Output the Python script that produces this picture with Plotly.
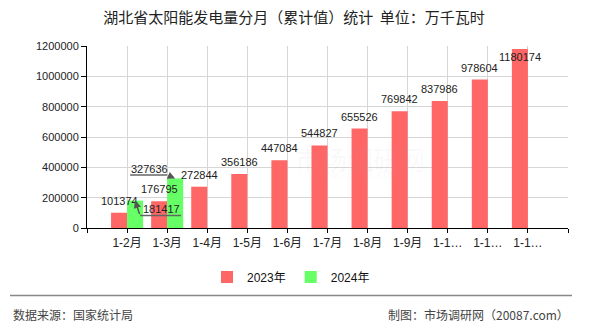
import plotly.graph_objects as go

# Monthly cumulative solar generation, Hubei (10,000 kWh)
months = ["1-2月", "1-3月", "1-4月", "1-5月", "1-6月", "1-7月",
          "1-8月", "1-9月", "1-10月", "1-11月", "1-12月"]
v2023 = [101374, 176795, 272844, 356186, 447084, 544827,
         655526, 769842, 837986, 978604, 1180174]
v2024 = [181417, 327636]
series_names = ["2023年", "2024年"]
y_ticks = [0, 200000, 400000, 600000, 800000, 1000000, 1200000]

RED = "#ff6666"
GREEN = "#66ff66"
W, H = 590, 330
ML, MR, MT, MB = 87, 22, 46, 100
PW, PH = W - ML - MR, H - MT - MB
FONT = "Liberation Sans, Noto Sans CJK SC, sans-serif"
CJK = "Noto Sans CJK SC, sans-serif"


def px_x(px):
    return (px - ML) / PW


def px_y(py):
    return (H - MB - py) / PH


# long category names get cut short on the axis
tick_text = [m if len(m) <= 4 else m[:3] + "…" for m in months]
xs = list(range(len(months)))

fig = go.Figure()
fig.add_trace(go.Bar(x=xs, y=v2023, name=series_names[0], marker_color=RED,
                     marker_line_width=0))
fig.add_trace(go.Bar(x=xs[:len(v2024)], y=v2024, name=series_names[1],
                     marker_color=GREEN, marker_line_width=0))

annotations = []
shapes = []

# 2023 value labels above the bars (the tallest one sits just inside)
for i, v in enumerate(v2023):
    shift = -8 if i == len(v2023) - 1 else 12
    annotations.append(dict(x=i, y=v, xref="x", yref="y", text=str(v),
                            showarrow=False, xshift=-8, yshift=shift,
                            font=dict(size=11, color="#222", family=FONT)))

# 2024 labels are pulled aside with leader lines
# offsets in pixels from the bar top, y positive = up
leaders = [
    dict(label=(26, -8), elbow=(5, -15), under=(5, 46)),
    dict(label=(-26, 9), elbow=(-8, 3.5), under=(-45, -8)),
]
for i, v in enumerate(v2024):
    ld = leaders[i]
    annotations.append(dict(x=i, y=v, xref="x", yref="y", text=str(v),
                            showarrow=False, xshift=8 + ld["label"][0],
                            yshift=ld["label"][1],
                            font=dict(size=11, color="#222", family=FONT)))
    annotations.append(dict(x=i, y=v, xref="x", yref="y", text="",
                            showarrow=True, xshift=8,
                            ax=ld["elbow"][0], ay=-ld["elbow"][1],
                            arrowhead=2, arrowsize=1, arrowwidth=1.5,
                            arrowcolor="#555", standoff=0))
    shapes.append(dict(type="line", xref="x", yref="y",
                       xsizemode="pixel", ysizemode="pixel",
                       xanchor=i, yanchor=v,
                       x0=8 + ld["under"][0], x1=8 + ld["under"][1],
                       y0=ld["elbow"][1], y1=ld["elbow"][1],
                       line=dict(color="#666", width=1.5)))

# faint watermark
annotations.append(dict(x=px_x(360), y=px_y(160), xref="paper", yref="paper",
                        text="市场调研网", showarrow=False,
                        font=dict(size=26, color="rgba(170,170,190,0.07)",
                                  family=CJK)))
annotations.append(dict(x=px_x(355), y=px_y(184), xref="paper", yref="paper",
                        text="www.20087.com", showarrow=False,
                        font=dict(size=12, color="rgba(170,170,190,0.07)",
                                  family=FONT)))

# footer
shapes.append(dict(type="line", xref="paper", yref="paper",
                   x0=px_x(10), x1=px_x(572), y0=px_y(298), y1=px_y(298),
                   line=dict(color="#888", width=1.5)))
annotations.append(dict(x=px_x(11), y=px_y(317), xref="paper", yref="paper",
                        xanchor="left", yanchor="middle", text="数据来源：国家统计局",
                        showarrow=False,
                        font=dict(size=12, color="#444", family=CJK)))
annotations.append(dict(x=px_x(571), y=px_y(317), xref="paper", yref="paper",
                        xanchor="right", yanchor="middle",
                        text="制图：市场调研网（20087.com）", showarrow=False,
                        font=dict(size=12, color="#444", family=CJK)))

fig.update_layout(
    width=W, height=H,
    margin=dict(l=ML, r=MR, t=MT, b=MB, pad=0),
    paper_bgcolor="white", plot_bgcolor="white",
    barmode="group", bargap=0.2, bargroupgap=0,
    title=dict(text="湖北省太阳能发电量分月（累计值）统计  单位：万千瓦时",
               x=294 / W, y=1 - 18 / H, xref="container", yref="container",
               xanchor="center", yanchor="middle",
               font=dict(size=15, color="#222", family=CJK)),
    legend=dict(orientation="h", x=291 / W, y=1 - 277 / H,
                xref="container", yref="container",
                xanchor="center", yanchor="middle",
                font=dict(size=12, color="#111", family=FONT),
                itemwidth=30, tracegroupgap=0),
    font=dict(family=FONT, size=11, color="#222"),
    annotations=annotations,
    shapes=shapes,
)

fig.update_xaxes(range=[-1, len(months)],
                 tickvals=list(range(-1, len(months) + 1)),
                 ticktext=[""] + tick_text + [""],
                 showgrid=True, gridcolor="#d6d6d6", gridwidth=1,
                 showline=True, linecolor="#000", linewidth=1,
                 ticks="outside", ticklen=4, tickcolor="#000",
                 tickfont=dict(size=12, color="#222", family=FONT),
                 zeroline=False)
fig.update_yaxes(range=[0, 1200000], tickvals=y_ticks, tickformat="d",
                 showgrid=True, gridcolor="#d6d6d6", gridwidth=1,
                 showline=True, linecolor="#000", linewidth=1,
                 ticks="outside", ticklen=5, tickcolor="#000",
                 tickfont=dict(size=11, color="#222", family=FONT),
                 zeroline=False)

fig.write_html("out.html")
